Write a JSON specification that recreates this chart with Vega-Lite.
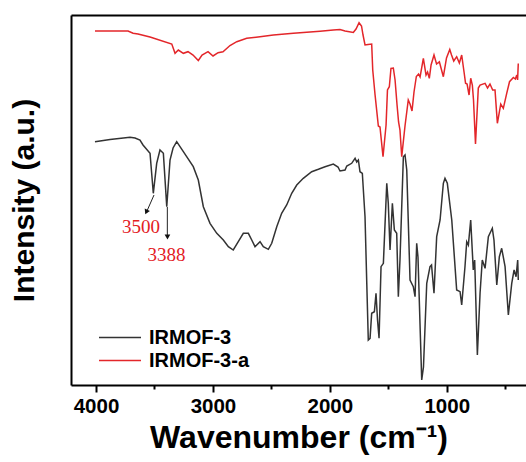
{
  "$schema": "https://vega.github.io/schema/vega-lite/v6.json",
  "width": 455,
  "height": 370,
  "autosize": {"type": "none"},
  "padding": {"left": 71, "top": 15, "right": 0, "bottom": 77},
  "background": "white",
  "config": {"view": {"stroke": null}, "font": "Liberation Sans"},
  "datasets": {
    "spectra": [
      {"s":"IRMOF-3","w":4009,"v":243.3},{"s":"IRMOF-3","w":3880,"v":245.5},{"s":"IRMOF-3","w":3709,"v":247.7},{"s":"IRMOF-3","w":3666,"v":247},{"s":"IRMOF-3","w":3624,"v":245},{"s":"IRMOF-3","w":3598,"v":240},{"s":"IRMOF-3","w":3538,"v":231.7},{"s":"IRMOF-3","w":3510,"v":191.7},{"s":"IRMOF-3","w":3481,"v":221.7},{"s":"IRMOF-3","w":3453,"v":235},{"s":"IRMOF-3","w":3424,"v":231.7},{"s":"IRMOF-3","w":3395,"v":178.3},{"s":"IRMOF-3","w":3367,"v":225},{"s":"IRMOF-3","w":3341,"v":237},{"s":"IRMOF-3","w":3310,"v":243.3},{"s":"IRMOF-3","w":3253,"v":233.3},{"s":"IRMOF-3","w":3168,"v":218.3},{"s":"IRMOF-3","w":3125,"v":205},{"s":"IRMOF-3","w":3082,"v":178.3},{"s":"IRMOF-3","w":3025,"v":161.7},{"s":"IRMOF-3","w":2967,"v":151.7},{"s":"IRMOF-3","w":2911,"v":145},{"s":"IRMOF-3","w":2868,"v":138.3},{"s":"IRMOF-3","w":2826,"v":135},{"s":"IRMOF-3","w":2783,"v":143.3},{"s":"IRMOF-3","w":2740,"v":151.7},{"s":"IRMOF-3","w":2697,"v":151.7},{"s":"IRMOF-3","w":2668,"v":145},{"s":"IRMOF-3","w":2640,"v":138.3},{"s":"IRMOF-3","w":2597,"v":143.3},{"s":"IRMOF-3","w":2569,"v":138.3},{"s":"IRMOF-3","w":2526,"v":135.7},{"s":"IRMOF-3","w":2497,"v":141.7},{"s":"IRMOF-3","w":2454,"v":158.3},{"s":"IRMOF-3","w":2412,"v":171.7},{"s":"IRMOF-3","w":2369,"v":180},{"s":"IRMOF-3","w":2326,"v":191.7},{"s":"IRMOF-3","w":2283,"v":200},{"s":"IRMOF-3","w":2227,"v":206.7},{"s":"IRMOF-3","w":2155,"v":213.3},{"s":"IRMOF-3","w":2098,"v":215.7},{"s":"IRMOF-3","w":2041,"v":218.3},{"s":"IRMOF-3","w":1970,"v":221},{"s":"IRMOF-3","w":1930,"v":218},{"s":"IRMOF-3","w":1913,"v":214},{"s":"IRMOF-3","w":1870,"v":215},{"s":"IRMOF-3","w":1855,"v":219},{"s":"IRMOF-3","w":1813,"v":221.7},{"s":"IRMOF-3","w":1784,"v":226.7},{"s":"IRMOF-3","w":1770,"v":223},{"s":"IRMOF-3","w":1756,"v":225},{"s":"IRMOF-3","w":1742,"v":213.3},{"s":"IRMOF-3","w":1722,"v":211.7},{"s":"IRMOF-3","w":1699,"v":168.3},{"s":"IRMOF-3","w":1684,"v":101.7},{"s":"IRMOF-3","w":1671,"v":45},{"s":"IRMOF-3","w":1656,"v":46.7},{"s":"IRMOF-3","w":1642,"v":71.7},{"s":"IRMOF-3","w":1619,"v":73.3},{"s":"IRMOF-3","w":1605,"v":91.7},{"s":"IRMOF-3","w":1592,"v":65},{"s":"IRMOF-3","w":1579,"v":46.7},{"s":"IRMOF-3","w":1562,"v":118.3},{"s":"IRMOF-3","w":1542,"v":121.7},{"s":"IRMOF-3","w":1513,"v":201.7},{"s":"IRMOF-3","w":1500,"v":181.7},{"s":"IRMOF-3","w":1485,"v":135},{"s":"IRMOF-3","w":1465,"v":181.7},{"s":"IRMOF-3","w":1448,"v":155},{"s":"IRMOF-3","w":1428,"v":151.7},{"s":"IRMOF-3","w":1414,"v":88.3},{"s":"IRMOF-3","w":1400,"v":125},{"s":"IRMOF-3","w":1371,"v":228.3},{"s":"IRMOF-3","w":1357,"v":230},{"s":"IRMOF-3","w":1342,"v":215},{"s":"IRMOF-3","w":1314,"v":105},{"s":"IRMOF-3","w":1286,"v":98.3},{"s":"IRMOF-3","w":1271,"v":88.3},{"s":"IRMOF-3","w":1257,"v":141.7},{"s":"IRMOF-3","w":1246,"v":128},{"s":"IRMOF-3","w":1214,"v":5},{"s":"IRMOF-3","w":1199,"v":18},{"s":"IRMOF-3","w":1171,"v":101.7},{"s":"IRMOF-3","w":1143,"v":118.3},{"s":"IRMOF-3","w":1130,"v":120},{"s":"IRMOF-3","w":1109,"v":91.7},{"s":"IRMOF-3","w":1086,"v":148.3},{"s":"IRMOF-3","w":1057,"v":165},{"s":"IRMOF-3","w":1029,"v":201.7},{"s":"IRMOF-3","w":1015,"v":206.7},{"s":"IRMOF-3","w":995,"v":201.7},{"s":"IRMOF-3","w":957,"v":165},{"s":"IRMOF-3","w":915,"v":95},{"s":"IRMOF-3","w":886,"v":93.3},{"s":"IRMOF-3","w":872,"v":80},{"s":"IRMOF-3","w":844,"v":118.3},{"s":"IRMOF-3","w":829,"v":143.3},{"s":"IRMOF-3","w":815,"v":140},{"s":"IRMOF-3","w":795,"v":165},{"s":"IRMOF-3","w":773,"v":115},{"s":"IRMOF-3","w":761,"v":125},{"s":"IRMOF-3","w":738,"v":30},{"s":"IRMOF-3","w":715,"v":91.7},{"s":"IRMOF-3","w":696,"v":125},{"s":"IRMOF-3","w":672,"v":116.7},{"s":"IRMOF-3","w":644,"v":148.3},{"s":"IRMOF-3","w":610,"v":156.7},{"s":"IRMOF-3","w":596,"v":145},{"s":"IRMOF-3","w":572,"v":100},{"s":"IRMOF-3","w":550,"v":128.3},{"s":"IRMOF-3","w":530,"v":136.7},{"s":"IRMOF-3","w":501,"v":118.3},{"s":"IRMOF-3","w":473,"v":70},{"s":"IRMOF-3","w":444,"v":101.7},{"s":"IRMOF-3","w":424,"v":115},{"s":"IRMOF-3","w":407,"v":108.3},{"s":"IRMOF-3","w":393,"v":125},{"s":"IRMOF-3","w":388,"v":105},
      {"s":"IRMOF-3-a","w":4009,"v":354},{"s":"IRMOF-3-a","w":3880,"v":354},{"s":"IRMOF-3-a","w":3726,"v":354},{"s":"IRMOF-3-a","w":3683,"v":351.7},{"s":"IRMOF-3-a","w":3641,"v":351},{"s":"IRMOF-3-a","w":3538,"v":348},{"s":"IRMOF-3-a","w":3352,"v":341},{"s":"IRMOF-3-a","w":3324,"v":331.7},{"s":"IRMOF-3-a","w":3296,"v":335},{"s":"IRMOF-3-a","w":3253,"v":331.7},{"s":"IRMOF-3-a","w":3213,"v":333.3},{"s":"IRMOF-3-a","w":3170,"v":330},{"s":"IRMOF-3-a","w":3125,"v":324.5},{"s":"IRMOF-3-a","w":3093,"v":330},{"s":"IRMOF-3-a","w":3042,"v":333.3},{"s":"IRMOF-3-a","w":2999,"v":329},{"s":"IRMOF-3-a","w":2956,"v":332.3},{"s":"IRMOF-3-a","w":2914,"v":333.3},{"s":"IRMOF-3-a","w":2854,"v":339.5},{"s":"IRMOF-3-a","w":2796,"v":343.3},{"s":"IRMOF-3-a","w":2711,"v":346.7},{"s":"IRMOF-3-a","w":2597,"v":348.3},{"s":"IRMOF-3-a","w":2483,"v":350},{"s":"IRMOF-3-a","w":2312,"v":351.7},{"s":"IRMOF-3-a","w":2255,"v":352.3},{"s":"IRMOF-3-a","w":2084,"v":353.8},{"s":"IRMOF-3-a","w":1970,"v":355},{"s":"IRMOF-3-a","w":1913,"v":355.5},{"s":"IRMOF-3-a","w":1870,"v":354},{"s":"IRMOF-3-a","w":1799,"v":352.5},{"s":"IRMOF-3-a","w":1776,"v":356},{"s":"IRMOF-3-a","w":1750,"v":362.3},{"s":"IRMOF-3-a","w":1729,"v":359},{"s":"IRMOF-3-a","w":1716,"v":350},{"s":"IRMOF-3-a","w":1699,"v":340},{"s":"IRMOF-3-a","w":1673,"v":340.5},{"s":"IRMOF-3-a","w":1642,"v":341},{"s":"IRMOF-3-a","w":1633,"v":315},{"s":"IRMOF-3-a","w":1613,"v":290},{"s":"IRMOF-3-a","w":1585,"v":259},{"s":"IRMOF-3-a","w":1571,"v":258},{"s":"IRMOF-3-a","w":1545,"v":228.3},{"s":"IRMOF-3-a","w":1519,"v":260},{"s":"IRMOF-3-a","w":1507,"v":295},{"s":"IRMOF-3-a","w":1491,"v":298.3},{"s":"IRMOF-3-a","w":1477,"v":316.7},{"s":"IRMOF-3-a","w":1457,"v":317},{"s":"IRMOF-3-a","w":1442,"v":305},{"s":"IRMOF-3-a","w":1425,"v":280},{"s":"IRMOF-3-a","w":1412,"v":263},{"s":"IRMOF-3-a","w":1400,"v":255},{"s":"IRMOF-3-a","w":1385,"v":228.3},{"s":"IRMOF-3-a","w":1357,"v":259},{"s":"IRMOF-3-a","w":1329,"v":285},{"s":"IRMOF-3-a","w":1314,"v":281},{"s":"IRMOF-3-a","w":1297,"v":274},{"s":"IRMOF-3-a","w":1280,"v":293},{"s":"IRMOF-3-a","w":1260,"v":308.5},{"s":"IRMOF-3-a","w":1241,"v":311},{"s":"IRMOF-3-a","w":1228,"v":308},{"s":"IRMOF-3-a","w":1200,"v":326.7},{"s":"IRMOF-3-a","w":1177,"v":310},{"s":"IRMOF-3-a","w":1164,"v":313},{"s":"IRMOF-3-a","w":1149,"v":306.7},{"s":"IRMOF-3-a","w":1134,"v":320},{"s":"IRMOF-3-a","w":1109,"v":330},{"s":"IRMOF-3-a","w":1087,"v":321},{"s":"IRMOF-3-a","w":1063,"v":323.3},{"s":"IRMOF-3-a","w":1029,"v":308.3},{"s":"IRMOF-3-a","w":1002,"v":327},{"s":"IRMOF-3-a","w":974,"v":335.5},{"s":"IRMOF-3-a","w":959,"v":330},{"s":"IRMOF-3-a","w":940,"v":324},{"s":"IRMOF-3-a","w":915,"v":328.3},{"s":"IRMOF-3-a","w":892,"v":322},{"s":"IRMOF-3-a","w":872,"v":330},{"s":"IRMOF-3-a","w":852,"v":313},{"s":"IRMOF-3-a","w":839,"v":301.7},{"s":"IRMOF-3-a","w":826,"v":301},{"s":"IRMOF-3-a","w":809,"v":290},{"s":"IRMOF-3-a","w":795,"v":306.7},{"s":"IRMOF-3-a","w":781,"v":300},{"s":"IRMOF-3-a","w":771,"v":285},{"s":"IRMOF-3-a","w":754,"v":241},{"s":"IRMOF-3-a","w":730,"v":297},{"s":"IRMOF-3-a","w":715,"v":300},{"s":"IRMOF-3-a","w":672,"v":301.7},{"s":"IRMOF-3-a","w":651,"v":297},{"s":"IRMOF-3-a","w":630,"v":301},{"s":"IRMOF-3-a","w":607,"v":295},{"s":"IRMOF-3-a","w":587,"v":295},{"s":"IRMOF-3-a","w":567,"v":261.7},{"s":"IRMOF-3-a","w":538,"v":281},{"s":"IRMOF-3-a","w":516,"v":276.7},{"s":"IRMOF-3-a","w":487,"v":291.7},{"s":"IRMOF-3-a","w":463,"v":303.3},{"s":"IRMOF-3-a","w":430,"v":307.5},{"s":"IRMOF-3-a","w":413,"v":306},{"s":"IRMOF-3-a","w":401,"v":310},{"s":"IRMOF-3-a","w":394,"v":305},{"s":"IRMOF-3-a","w":388,"v":321.5}
    ],
    "arrows": [
      {"w":3504,"v":190,"w2":3568,"v2":173},
      {"w":3390,"v":178,"w2":3390,"v2":149}
    ],
    "head1": [{"w":3570,"v":173}],
    "head2": [{"w":3389,"v":148}],
    "labels": [
      {"t":"3500","w":3615,"v":158},
      {"t":"3388","w":3397,"v":130}
    ]
  },
  "layer": [
    {
      "data": {"name": "spectra"},
      "mark": {"type": "line", "strokeWidth": 1.5, "clip": true},
      "encoding": {
        "x": {
          "field": "w", "type": "quantitative",
          "scale": {"domain": [322, 4214], "reverse": true, "nice": false, "zero": false},
          "axis": {
            "orient": "bottom",
            "values": [4000, 3500, 3000, 2500, 2000, 1500, 1000, 500],
            "format": "d",
            "labelExpr": "datum.value % 1000 === 0 ? datum.label : ''",
            "tickSize": {"condition": {"test": "datum.value % 1000 === 0", "value": 7}, "value": 4},
            "tickWidth": 2, "tickColor": "black",
            "domainColor": "black", "domainWidth": 2,
            "grid": false,
            "labelFont": "Liberation Sans", "labelFontWeight": "bold", "labelFontSize": 20.5,
            "labelColor": "black", "labelPadding": 4, "labelFlush": false,
            "title": "Wavenumber (cm⁻¹)",
            "titleFont": "Liberation Sans", "titleFontWeight": "bold", "titleFontSize": 32,
            "titleColor": "black", "titlePadding": 6
          }
        },
        "y": {
          "field": "v", "type": "quantitative",
          "scale": {"domain": [0, 370], "nice": false},
          "axis": {
            "orient": "left", "ticks": false, "labels": false, "grid": false,
            "domainColor": "black", "domainWidth": 2,
            "title": "Intensity (a.u.)",
            "titleFont": "Liberation Sans", "titleFontWeight": "bold", "titleFontSize": 30,
            "titleColor": "black", "titlePadding": 32
          }
        },
        "color": {
          "field": "s", "type": "nominal",
          "scale": {"domain": ["IRMOF-3", "IRMOF-3-a"], "range": ["#333333", "#e3262a"]},
          "legend": {
            "orient": "none", "legendX": 27, "legendY": 311, "title": null,
            "symbolType": "stroke", "symbolSize": 1764, "symbolStrokeWidth": 1.5,
            "labelFont": "Liberation Sans", "labelFontWeight": "bold", "labelFontSize": 20,
            "labelColor": "black", "labelOffset": 7, "clipHeight": 23, "rowPadding": 0, "padding": 0
          }
        }
      }
    },
    {
      "data": {"name": "arrows"},
      "mark": {"type": "rule", "color": "#222222", "strokeWidth": 1},
      "encoding": {
        "x": {"field": "w", "type": "quantitative", "axis": null},
        "x2": {"field": "w2"},
        "y": {"field": "v", "type": "quantitative", "axis": {"orient": "left", "ticks": false, "labels": false, "grid": false, "domainColor": "black", "domainWidth": 2, "title": "Intensity (a.u.)", "titleFont": "Liberation Sans", "titleFontWeight": "bold", "titleFontSize": 30, "titleColor": "black", "titlePadding": 32}},
        "y2": {"field": "v2"}
      }
    },
    {
      "data": {"name": "head1"},
      "mark": {"type": "point", "shape": "triangle-down", "filled": true, "size": 32, "color": "#111111", "opacity": 1, "angle": 24},
      "encoding": {
        "x": {"field": "w", "type": "quantitative", "axis": null},
        "y": {"field": "v", "type": "quantitative", "axis": {"orient": "left", "ticks": false, "labels": false, "grid": false, "domainColor": "black", "domainWidth": 2, "title": "Intensity (a.u.)", "titleFont": "Liberation Sans", "titleFontWeight": "bold", "titleFontSize": 30, "titleColor": "black", "titlePadding": 32}}
      }
    },
    {
      "data": {"name": "head2"},
      "mark": {"type": "point", "shape": "triangle-down", "filled": true, "size": 32, "color": "#111111", "opacity": 1},
      "encoding": {
        "x": {"field": "w", "type": "quantitative", "axis": null},
        "y": {"field": "v", "type": "quantitative", "axis": {"orient": "left", "ticks": false, "labels": false, "grid": false, "domainColor": "black", "domainWidth": 2, "title": "Intensity (a.u.)", "titleFont": "Liberation Sans", "titleFontWeight": "bold", "titleFontSize": 30, "titleColor": "black", "titlePadding": 32}}
      }
    },
    {
      "data": {"name": "labels"},
      "mark": {"type": "text", "font": "Liberation Serif", "fontSize": 19, "color": "#e3201f", "align": "center", "baseline": "middle"},
      "encoding": {
        "x": {"field": "w", "type": "quantitative", "axis": {"orient": "top", "ticks": false, "labels": false, "grid": false, "domainColor": "black", "domainWidth": 2, "title": null}},
        "y": {"field": "v", "type": "quantitative", "axis": {"orient": "left", "ticks": false, "labels": false, "grid": false, "domainColor": "black", "domainWidth": 2, "title": "Intensity (a.u.)", "titleFont": "Liberation Sans", "titleFontWeight": "bold", "titleFontSize": 30, "titleColor": "black", "titlePadding": 32}},
        "text": {"field": "t"}
      }
    }
  ],
  "resolve": {"axis": {"x": "independent"}}
}
